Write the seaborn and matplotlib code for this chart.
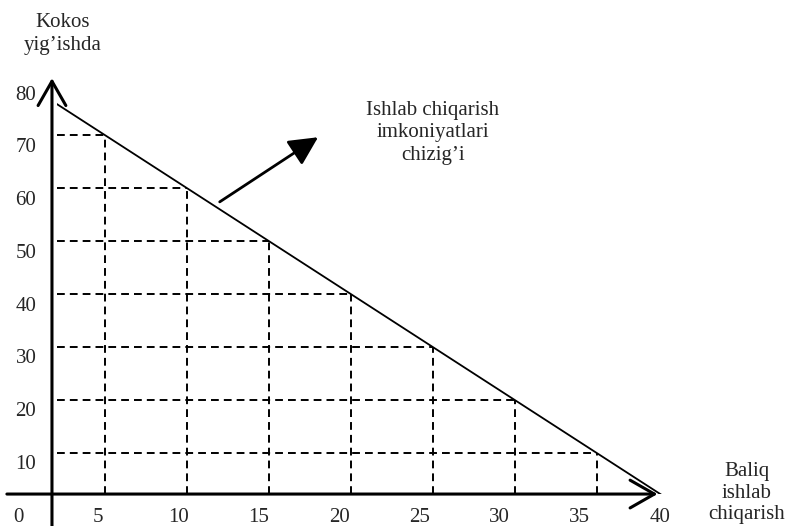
import matplotlib
matplotlib.use("Agg")
import matplotlib.pyplot as plt
import seaborn as sns
from matplotlib.patches import Rectangle

# production possibilities: fish (x) vs coconuts (y)
fish = [5, 10, 15, 20, 25, 30, 35]
coconut = [70, 60, 50, 40, 30, 20, 10]
ppf_fish = [0, 40]
ppf_coconut = [80, 0]
x_ticks = [0, 5, 10, 15, 20, 25, 30, 35, 40]
y_ticks = [10, 20, 30, 40, 50, 60, 70, 80]

sns.set_theme(style="white")
plt.rcParams['font.family'] = ['Liberation Serif', 'DejaVu Serif']

fig = plt.figure(figsize=(7.87, 5.26), dpi=100)
ax = fig.add_axes([0, 0, 1, 1])
ax.set_xlim(-1.40, 46.6)
ax.set_ylim(-3.77, 95.5)
ax.axis('off')

# where the hand-drawn axes cross
x0, y0 = 1.77, 2.26

axis_arrow = dict(arrowstyle='->,head_length=0.7,head_width=0.4', lw=2.2,
                  color='black', mutation_scale=25, shrinkA=0, shrinkB=0)
ax.annotate('', xy=(x0, 80.75), xytext=(x0, -3.77), arrowprops=axis_arrow)
ax.annotate('', xy=(38.7, y0), xytext=(-0.98, y0), arrowprops=axis_arrow)

# dashed guides to each point on the line
dash = (0, (4, 2.6))
ax.hlines(coconut, x0 + 0.3, fish, colors='black', lw=1.4, linestyles=dash)
ax.vlines(fish, y0, coconut, colors='black', lw=1.4, linestyles=dash)

# production possibilities line
sns.lineplot(x=ppf_fish, y=ppf_coconut, ax=ax, color='black', lw=1.3)
clip = Rectangle((x0 + 0.3, y0), 60, 100, transform=ax.transData)
ax.lines[-1].set_clip_path(clip)

# tick labels
for v in x_ticks:
    ax.text(-0.3 + 0.979 * v, -2.08, str(v), ha='center', va='center', fontsize=15)
for v in y_ticks:
    ax.text(0.18, -2.08 + 0.995 * v, str(v), ha='center', va='center', fontsize=15)

ax.text(2.44, 89.06, 'Kokos\nyig\u2019ishda', ha='center', va='center',
        fontsize=15, linespacing=1.25)
ax.text(44.15, 2.45, 'Baliq\nishlab\nchiqarish', ha='center', va='center',
        fontsize=15, linespacing=1.15)
ax.text(25.0, 70.4, 'Ishlab chiqarish\nimkoniyatlari\nchizig\u2019i', ha='center',
        va='center', fontsize=15, linespacing=1.25)

ax.annotate('', xy=(18.0, 69.6), xytext=(12.0, 57.4),
            arrowprops=dict(arrowstyle='-|>,head_length=0.8,head_width=0.4', lw=2,
                            color='black', mutation_scale=22, shrinkA=0, shrinkB=0))

fig.savefig('out.png', dpi=100)
